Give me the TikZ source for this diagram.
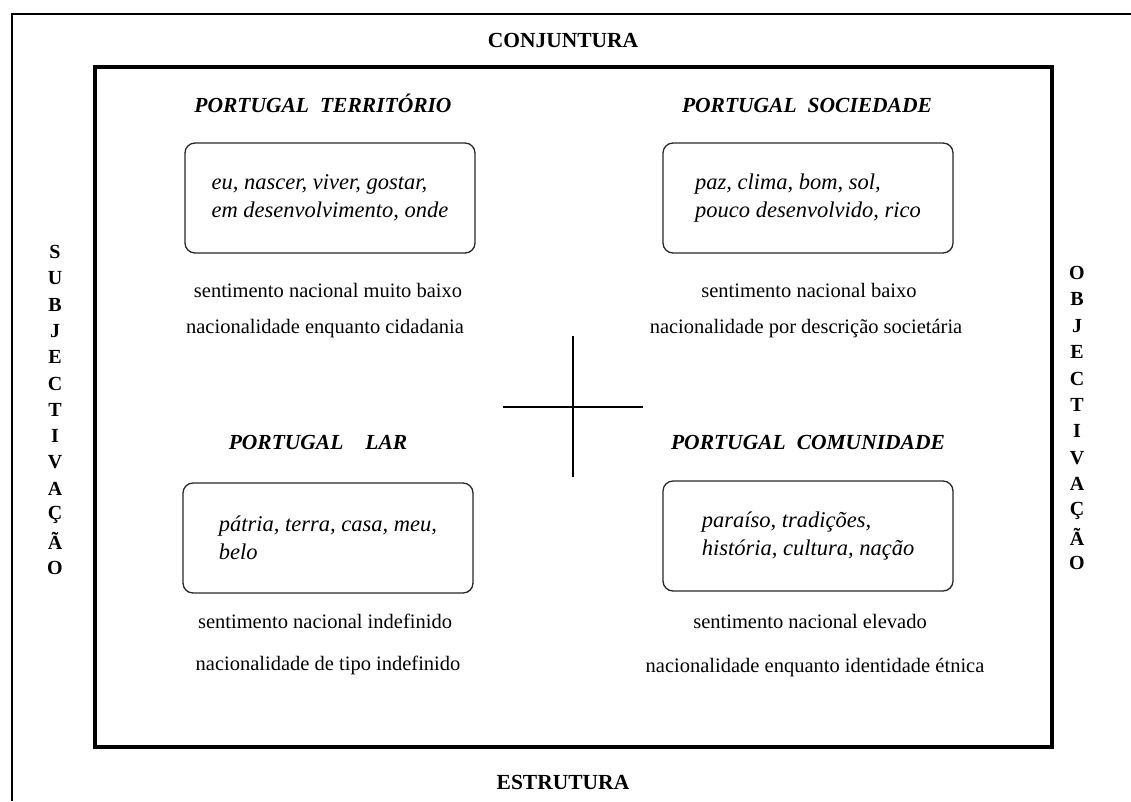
\documentclass[tikz,border=0pt]{standalone}
\usepackage{fontspec}
\setmainfont{Liberation Serif}
\usepackage{tikz}
\usetikzlibrary{positioning}
\tikzset{
  axislabel/.style ={font=\fontsize{21.5}{26}\selectfont\bfseries, inner sep=0pt},
  sideletter/.style={font=\fontsize{20}{24}\selectfont\bfseries, inner sep=0pt},
  quadtitle/.style ={font=\fontsize{21.5}{26}\selectfont\bfseries\itshape, inner sep=0pt, anchor=base},
  wordbox/.style   ={rectangle, rounded corners=10pt, draw=black!85, line width=1.3pt, align=left, minimum width=290pt, minimum height=110pt, inner sep=0pt, font=\fontsize{22.5}{28}\selectfont\itshape},
  note/.style      ={font=\fontsize{20.5}{24}\selectfont, inner sep=0pt, anchor=base},
}
\begin{document}
\begin{tikzpicture}[x=1pt, y=-1pt]
\useasboundingbox (0,0) rectangle (1131,801);
% --- frames ---
\draw[line width=2.5pt] (12,801) -- (12,14) -- (1131,14);
\draw[line width=4.5pt] (95,67) rectangle (1052,747);
% --- axis labels ---
\node[axislabel] (conj) at (563,40)  {CONJUNTURA};
\node[axislabel] (estr) at (563,782) {ESTRUTURA};
\foreach \l [count=\i from 0] in {S,U,B,J,E,C,T,I,V,A,Ç,Ã,O}
  {\node[sideletter] (subj\i) at (55,252+26.3*\i) {\l};}
\foreach \l [count=\i from 0] in {O,B,J,E,C,T,I,V,A,Ç,Ã,O}
  {\node[sideletter] (obj\i) at (1077,273+26.4*\i) {\l};}
% --- quadrant 1: territorio ---
\node[quadtitle] (terr) at (323,112) {PORTUGAL\hspace{11pt}TERRITÓRIO};
\node[wordbox] (terrbox) at (330,198) {eu, nascer, viver, gostar,\\em desenvolvimento, onde};
\node[note] (terr1) at (328,297) {sentimento nacional muito baixo};
\node[note] (terr2) at (325,333) {nacionalidade enquanto cidadania};
% --- quadrant 2: sociedade ---
\node[quadtitle] (soc) at (807,112) {PORTUGAL\hspace{11pt}SOCIEDADE};
\node[wordbox] (socbox) at (808,198) {paz, clima, bom, sol,\\pouco desenvolvido, rico};
\node[note] (soc1) at (809,297) {sentimento nacional baixo};
\node[note] (soc2) at (806,333) {nacionalidade por descrição societária};
% --- quadrant 3: lar ---
\node[quadtitle] (lar) at (318,449) {PORTUGAL\hspace{22pt}LAR};
\node[wordbox] (larbox) at (328,538) {pátria, terra, casa, meu,\\belo};
\node[note] (lar1) at (325,628) {sentimento nacional indefinido};
\node[note] (lar2) at (328,670) {nacionalidade de tipo indefinido};
% --- quadrant 4: comunidade ---
\node[quadtitle] (com) at (808,449) {PORTUGAL\hspace{11pt}COMUNIDADE};
\node[wordbox] (combox) at (808,536) {paraíso, tradições,\\história, cultura, nação};
\node[note] (com1) at (810,628) {sentimento nacional elevado};
\node[note] (com2) at (815,672) {nacionalidade enquanto identidade étnica};
% --- cross ---
\coordinate (crossc) at (573,407);
\draw[line width=2pt] ([yshift=-70pt]crossc) -- ([yshift=71pt]crossc);
\draw[line width=2pt] ([xshift=-70pt]crossc) -- ([xshift=70pt]crossc);
\end{tikzpicture}
\end{document}
